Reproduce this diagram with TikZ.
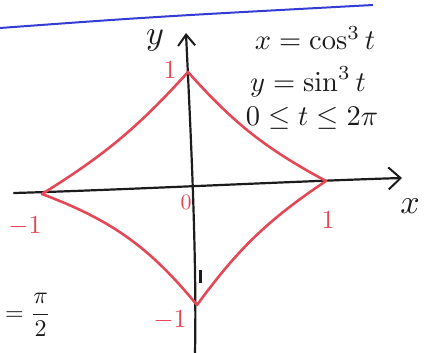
\documentclass[tikz,border=0pt]{standalone}
\usepackage{amsmath, amssymb}
\usepackage{xcolor}
\usetikzlibrary{calc,arrows.meta}
\definecolor{penred}{RGB}{228,72,86}
\definecolor{penblue}{RGB}{52,60,212}
\definecolor{penblack}{RGB}{28,28,28}
\tikzset{axisline/.style={line width=2.2pt, penblack, line cap=round}, astroidline/.style={line width=2.6pt, penred, line join=round, line cap=round}, redlabel/.style={penred, scale=2.6}, zerolabel/.style={penred, scale=2.2}, blacklabel/.style={penblack, scale=3.4}, eqlabel/.style={penblack, scale=2.85}, fraclabel/.style={penblack, scale=2.4}}

\begin{document}
\begin{tikzpicture}[x=1pt, y=1pt]
\useasboundingbox (0,0) rectangle (426,-353);
\draw[penblue, line width=2pt] (0,-28) .. controls (150,-17) .. (373,-5);
% axes
\coordinate (xstart) at (14,-193); \coordinate (xend) at (402,-178);
\coordinate (ystart) at (195,-353); \coordinate (yend) at (186,-33);
\draw[axisline, -{Straight Barb[length=12pt, width=22pt, line width=2pt]}] (xstart) .. controls (120,-190) and (300,-181) .. (xend);
\draw[axisline, -{Straight Barb[length=11pt, width=17pt, line width=2pt]}] (ystart) .. controls (197,-250) and (190,-120) .. (yend);
\draw[penblack, line width=3pt] (200,-270) -- (200,-283);
% astroid
\coordinate (cuspL) at (42,-194); \coordinate (cuspT) at (188,-72);
\coordinate (cuspR) at (326,-181); \coordinate (cuspB) at (197,-305);
\draw[astroidline] (cuspL) to[bend right=8] (cuspT) to[bend right=10] (cuspR) to[bend right=10] (cuspB) to[bend right=15] (cuspL);
% labels
\node[blacklabel] (ylab) at (155,-40) {$y$};
\node[blacklabel] (xlab) at (410,-206) {$x$};
\node[redlabel] (oneT) at (170,-70) {$1$};
\node[zerolabel] (zero) at (186,-202) {$0$};
\node[redlabel] (minusoneL) at (25,-226) {$-1$};
\node[redlabel] (oneR) at (328,-220) {$1$};
\node[redlabel] (minusoneB) at (170,-320) {$-1$};
\node[eqlabel] (eqx) at (315,-38) {$x=\cos^3 t$};
\node[eqlabel] (eqy) at (308,-82) {$y=\sin^3 t$};
\node[eqlabel] (eqt) at (312,-118) {$0\le t\le 2\pi$};
\node[fraclabel] (halfpi) at (28,-315) {$=\dfrac{\pi}{2}$};
\end{tikzpicture}
\end{document}
